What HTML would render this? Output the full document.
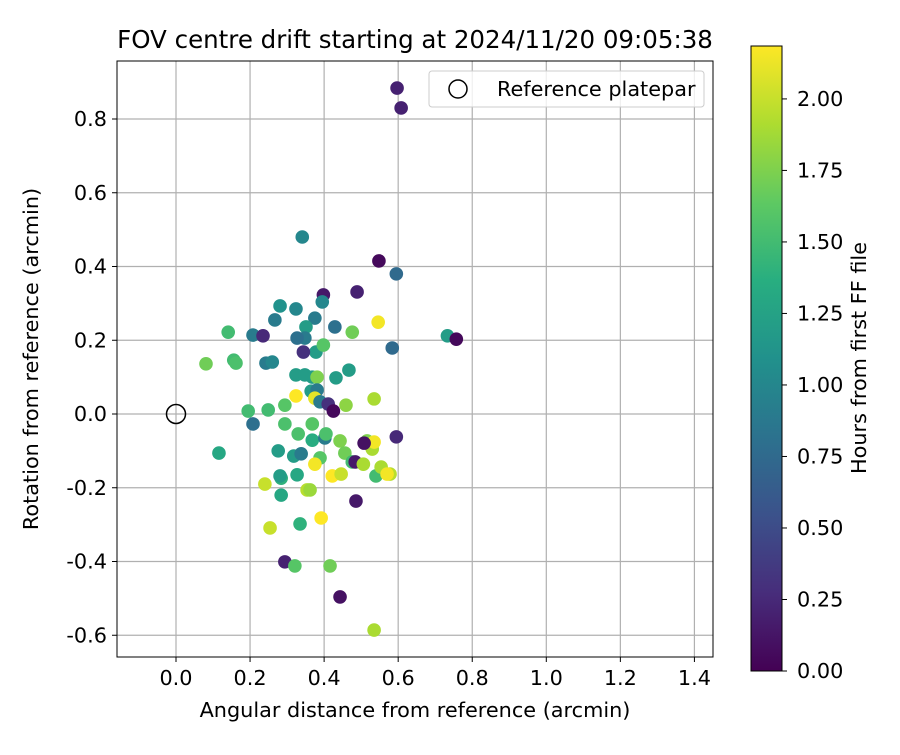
<!DOCTYPE html>
<html><head><meta charset="utf-8"><style>
body{margin:0;background:#fff}
svg text{font-family:"DejaVu Sans","Liberation Sans",sans-serif;fill:#000}
</style></head><body>
<svg id="chart" width="900" height="750">
<defs><linearGradient id="vir" x1="0" y1="1" x2="0" y2="0">
<stop offset="0" stop-color="#440154"/><stop offset="0.125" stop-color="#472d7b"/><stop offset="0.25" stop-color="#3b528b"/><stop offset="0.375" stop-color="#2c728e"/><stop offset="0.5" stop-color="#21918c"/><stop offset="0.625" stop-color="#28ae80"/><stop offset="0.75" stop-color="#5ec962"/><stop offset="0.875" stop-color="#addc30"/><stop offset="1" stop-color="#fde725"/></linearGradient></defs>
<text x="415" y="48" font-size="24.5" text-anchor="middle">FOV centre drift starting at 2024/11/20 09:05:38</text>
<g id="grid"></g><g id="pts"></g><g id="axes"></g>
<text x="415" y="717" font-size="20.8" text-anchor="middle">Angular distance from reference (arcmin)</text>
<text transform="translate(38,359) rotate(-90)" font-size="20.8" text-anchor="middle">Rotation from reference (arcmin)</text>
<g>
<rect x="429" y="71" width="275" height="36" rx="3" fill="#fff" fill-opacity="0.8" stroke="#ccc"/>
<circle cx="458" cy="89" r="9" fill="none" stroke="#000" stroke-width="1.5"/>
<text x="497" y="96" font-size="20.8">Reference platepar</text>
</g>
<rect x="751" y="46" width="31" height="625" fill="url(#vir)" stroke="#000" stroke-width="1"/>
<g id="cbticks"></g>
<text transform="translate(866,358) rotate(-90)" font-size="20.8" text-anchor="middle">Hours from first FF file</text>
</svg>
<script>
const xs=[0.597,0.608,0.341,0.548,0.595,0.398,0.489,0.281,0.267,0.324,0.375,0.395,0.429,0.351,0.348,0.141,0.208,0.235,0.327,0.378,0.398,0.344,0.476,0.546,0.733,0.584,0.757,0.081,0.156,0.162,0.243,0.260,0.324,0.348,0.368,0.381,0.432,0.467,0.365,0.381,0.324,0.375,0.389,0.411,0.425,0.249,0.294,0.459,0.535,0.195,0.116,0.208,0.294,0.368,0.368,0.330,0.402,0.443,0.456,0.516,0.405,0.276,0.318,0.389,0.338,0.476,0.530,0.535,0.484,0.595,0.540,0.554,0.508,0.578,0.570,0.506,0.375,0.422,0.446,0.284,0.327,0.240,0.281,0.354,0.362,0.284,0.486,0.392,0.254,0.335,0.294,0.321,0.416,0.443,0.535];
const ys=[0.884,0.830,0.48,0.415,0.38,0.323,0.331,0.293,0.255,0.285,0.26,0.304,0.236,0.236,0.206,0.222,0.214,0.212,0.206,0.168,0.187,0.168,0.222,0.249,0.212,0.179,0.203,0.136,0.146,0.138,0.138,0.141,0.106,0.106,0.1,0.1,0.098,0.119,0.062,0.065,0.049,0.043,0.033,0.027,0.008,0.011,0.024,0.024,0.041,0.008,-0.106,-0.027,-0.027,-0.027,-0.071,-0.054,-0.065,-0.073,-0.106,-0.073,-0.054,-0.1,-0.114,-0.119,-0.108,-0.13,-0.095,-0.076,-0.13,-0.062,-0.168,-0.144,-0.079,-0.163,-0.163,-0.136,-0.136,-0.168,-0.163,-0.174,-0.165,-0.19,-0.168,-0.206,-0.206,-0.22,-0.236,-0.282,-0.309,-0.298,-0.401,-0.412,-0.412,-0.496,-0.586];
const hours=[0.2,0.2,1.0,0.05,0.75,0.15,0.2,1.1,0.9,1.0,0.9,1.0,0.8,1.2,0.9,1.5,0.9,0.25,0.8,1.2,1.6,0.3,1.7,2.15,1.2,0.75,0.05,1.7,1.5,1.55,0.9,1.0,1.2,1.2,1.2,1.75,1.2,1.2,1.2,0.9,2.2,2.1,0.9,0.3,0.05,1.5,1.6,1.8,1.9,1.5,1.3,0.8,1.55,1.6,1.35,1.55,0.9,1.75,1.7,1.75,1.55,1.2,1.2,1.6,0.9,1.5,1.9,2.15,0.15,0.25,1.5,1.9,0.1,1.95,2.15,1.9,2.15,2.2,2.0,1.4,1.3,2.0,1.2,1.95,1.85,1.3,0.15,2.2,2.0,1.4,0.2,1.6,1.7,0.1,1.9];
const xTicks=[0.0,0.2,0.4,0.6,0.8,1.0,1.2,1.4];
const yTicks=[-0.6,-0.4,-0.2,0.0,0.2,0.4,0.6,0.8];
const cTicks=[0,0.25,0.5,0.75,1.0,1.25,1.5,1.75,2.0];
const L=117,R=713,T=61,B=657;
const X=v=>176+v*370.3, Y=v=>414-v*368.75, C=v=>671-v*(625/2.185);
const vir=[[68,1,84],[71,45,123],[59,82,139],[44,114,142],[33,145,140],[40,174,128],[94,201,98],[173,220,48],[253,231,37]];
function col(h){let t=Math.max(0,Math.min(1,h/2.185))*8,i=Math.min(7,Math.floor(t)),f=t-i;
return 'rgb('+vir[i].map((a,k)=>Math.round(a+(vir[i+1][k]-a)*f)).join(',')+')';}
const NS='http://www.w3.org/2000/svg';
function mk(p,tag,at){const e=document.createElementNS(NS,tag);for(const k in at)e.setAttribute(k,at[k]);p.appendChild(e);return e;}
const g=document.getElementById('grid'),ax=document.getElementById('axes'),pts=document.getElementById('pts'),cb=document.getElementById('cbticks');
xTicks.forEach(t=>{const l=mk(g,'line',{x1:X(t),x2:X(t),y1:T,y2:B,stroke:'#b0b0b0','stroke-width':1.2});


mk(ax,'line',{x1:X(t),x2:X(t),y1:B,y2:B+5,stroke:'#000'});
const tx=mk(ax,'text',{x:X(t),y:B+28,'font-size':20.8,'text-anchor':'middle'});tx.textContent=t.toFixed(1);

});
yTicks.forEach(t=>{const l=mk(g,'line',{x1:L,x2:R,y1:Y(t),y2:Y(t),stroke:'#b0b0b0','stroke-width':1.2});


mk(ax,'line',{x1:L-5,x2:L,y1:Y(t),y2:Y(t),stroke:'#000'});
const tx=mk(ax,'text',{x:L-10,y:Y(t)+7,'font-size':20.8,'text-anchor':'end'});tx.textContent=t.toFixed(1);

});
xs.forEach((x,i)=>{const c=mk(pts,'circle',{cx:X(x),cy:Y(ys[i]),r:6.8,fill:col(hours[i])});

});
const ref=mk(pts,'circle',{cx:X(0),cy:Y(0),r:9.5,fill:'none',stroke:'#000','stroke-width':1.5});


const fr=mk(ax,'rect',{x:L,y:T,width:R-L,height:B-T,fill:'none',stroke:'#000','stroke-width':1});


cTicks.forEach(t=>{mk(cb,'line',{x1:782,x2:787,y1:C(t),y2:C(t),stroke:'#000'});
const tx=mk(cb,'text',{x:797,y:C(t)+7,'font-size':20.8});tx.textContent=t.toFixed(2);

});
</script>
</body></html>
